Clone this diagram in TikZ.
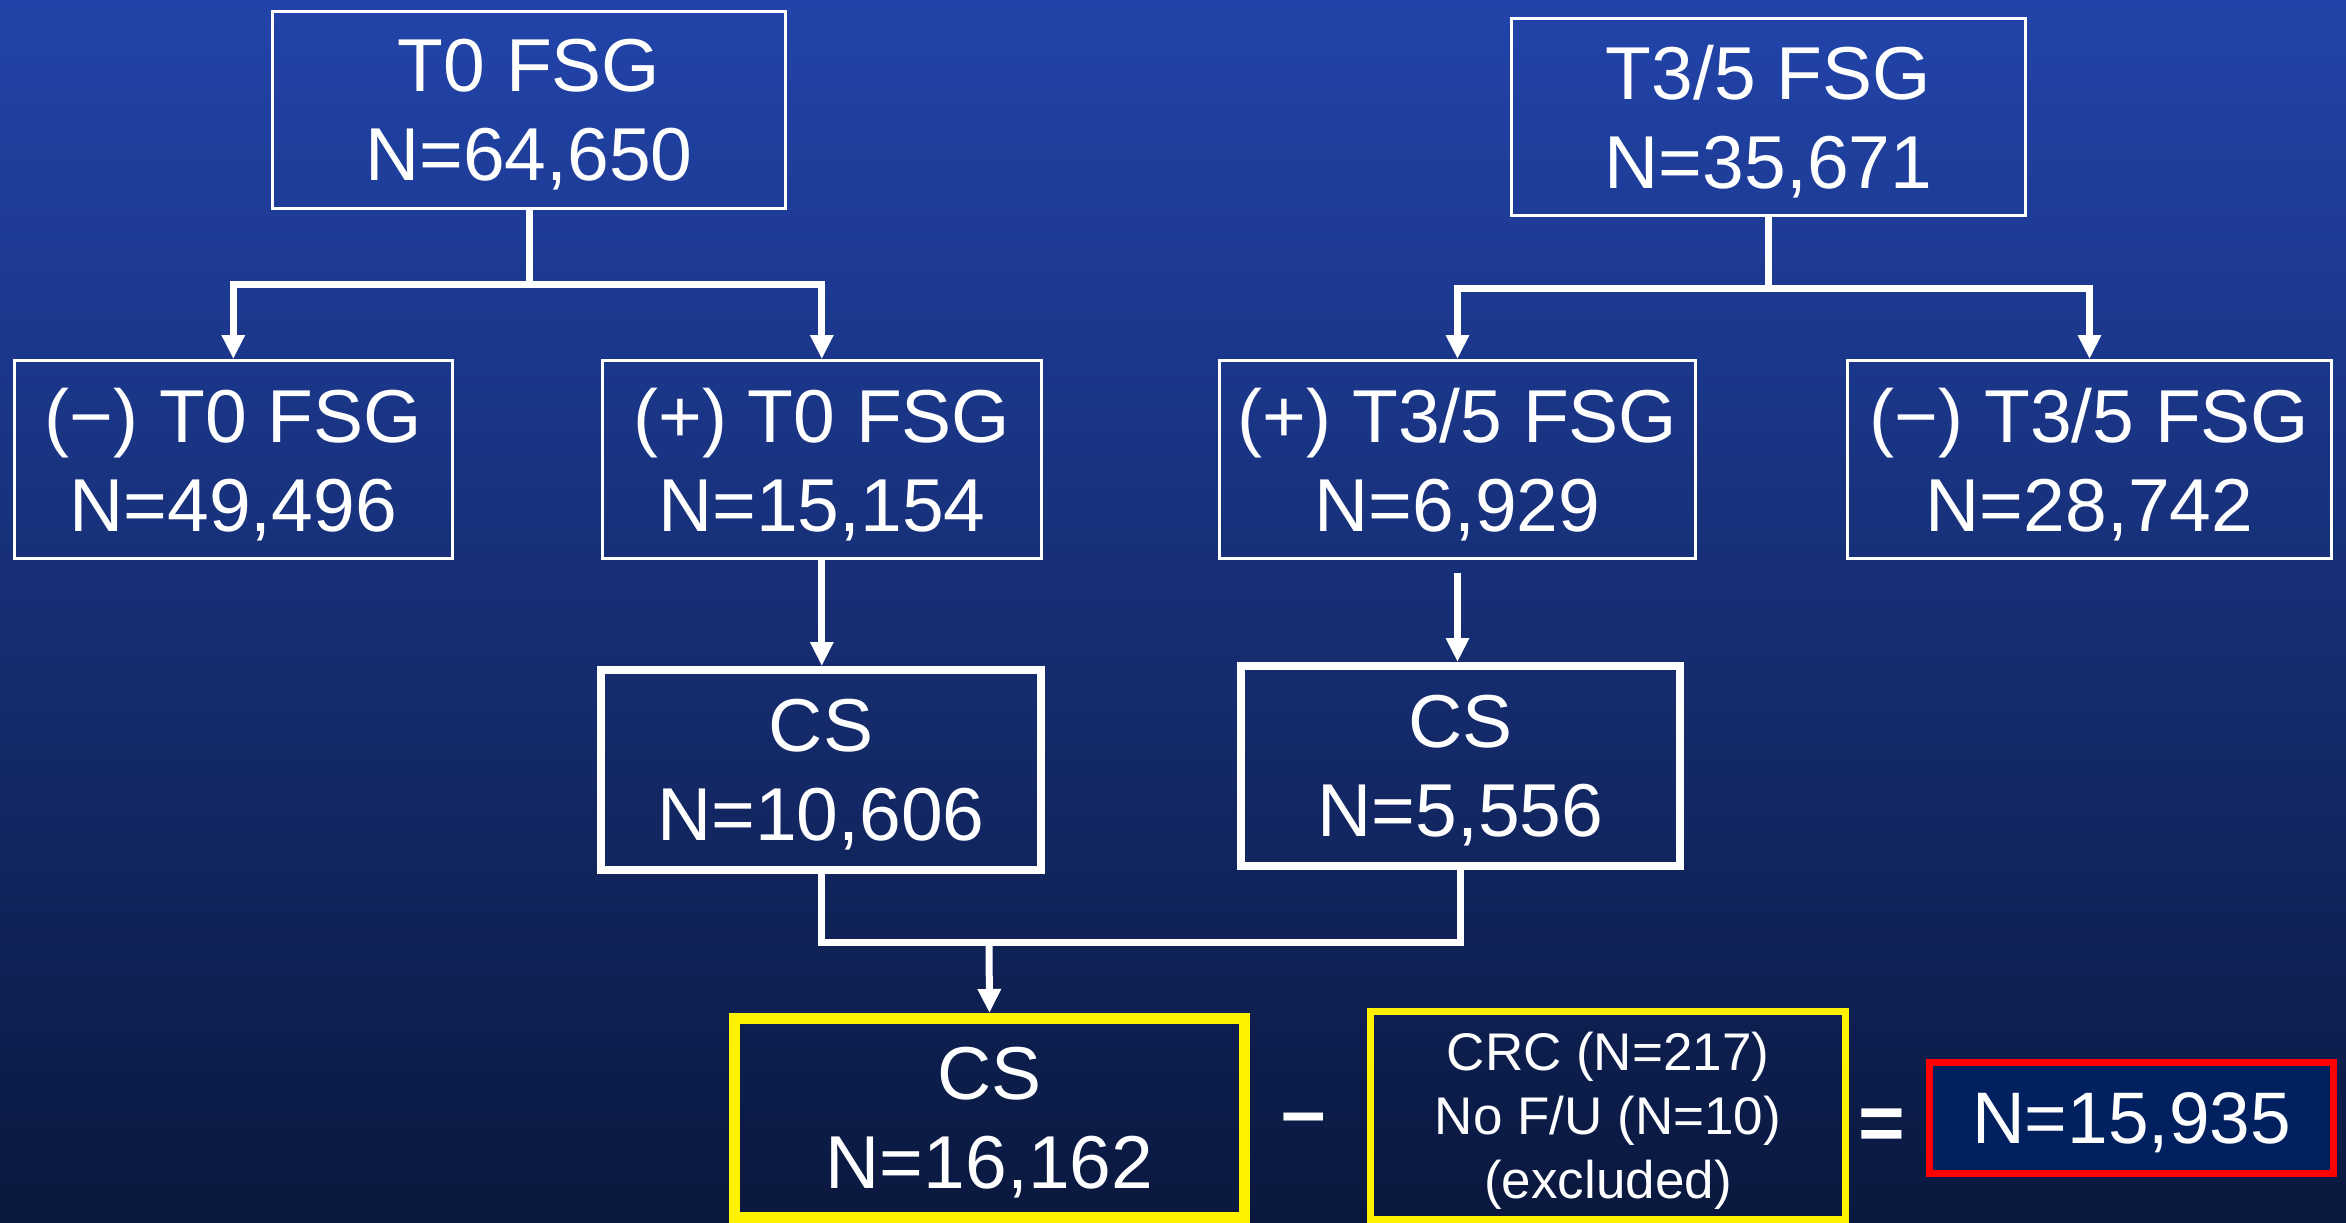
\documentclass[tikz,border=0pt]{standalone}
\usepackage{fontspec}
\setmainfont{Liberation Sans}
\usetikzlibrary{arrows.meta}
\definecolor{bgtop}{RGB}{34,68,170}
\definecolor{bgbot}{RGB}{10,24,62}
\definecolor{finfill}{RGB}{0,32,96}
\tikzset{
  box/.style={draw=white, inner sep=0pt, align=center, text=white, text depth=0pt,
    font=\fontsize{75}{89}\selectfont},
  thinbox/.style={box, line width=3pt},
  thickbox/.style={box, line width=8pt},
  conn/.style={draw=white, line width=7pt, line join=miter},
  arr/.style={conn, -{Triangle[length=24pt,width=22pt]}},
  sign/.style={text=white, inner sep=0pt, font=\bfseries\fontsize{80}{80}\selectfont}
}
\begin{document}
\begin{tikzpicture}[x=1pt,y=-1pt]
\shade[top color=bgtop, bottom color=bgbot] (0,0) rectangle (2346,1223);
\useasboundingbox (0,0) rectangle (2346,1223);

\node[thinbox, minimum width=513pt, minimum height=197pt] (t0) at (529,110) {T0 FSG\\N=64,650};
\node[thinbox, minimum width=514pt, minimum height=197pt] (t35) at (1768.5,117) {T3/5 FSG\\N=35,671};

\node[thinbox, minimum width=438pt, minimum height=198pt] (nt0) at (233.3,459.5) {(−) T0 FSG\\N=49,496};
\node[thinbox, minimum width=439pt, minimum height=198pt] (pt0) at (821.8,459.5) {(+) T0 FSG\\N=15,154};
\node[thinbox, minimum width=476pt, minimum height=198pt] (pt35) at (1457.5,459.5) {(+) T3/5 FSG\\N=6,929};
\node[thinbox, minimum width=484pt, minimum height=198pt] (nt35) at (2089.5,459.5) {(−) T3/5 FSG\\N=28,742};

\node[thickbox, minimum width=440pt, minimum height=200pt] (cs1) at (821,770) {CS\\N=10,606};
\node[thickbox, minimum width=439pt, minimum height=200pt] (cs2) at (1460.5,766) {CS\\N=5,556};

\node[box, draw=yellow, line width=11pt, minimum width=510pt, minimum height=199pt] (cs) at (989.5,1118) {CS\\N=16,162};
\node[box, draw=yellow, line width=7pt, minimum width=475pt, minimum height=208pt,
      font=\fontsize{53}{64}\selectfont] (crc) at (1608,1115.5) {CRC (N=217)\\No F/U (N=10)\\(excluded)};
\node[box, draw=red, fill=finfill, line width=7pt, minimum width=404pt, minimum height=111pt,
      font=\fontsize{73}{73}\selectfont] (fin) at (2131.5,1118) {N=15,935};

\node[sign, anchor=base] (minus) at (1304,1138) {–};
\node[sign, anchor=base] (eq) at (1882,1150) {=};

\coordinate (j1) at (529,284.5);
\coordinate (j3) at (1768.5,288.5);
\coordinate (j2) at (989,942);

\draw[conn, line cap=rect] (t0.south) -- (j1);
\draw[arr] (j1) -| (nt0.north);
\draw[arr] (j1) -| (pt0.north);

\draw[conn, line cap=rect] (t35.south) -- (j3);
\draw[arr] (j3) -| (pt35.north);
\draw[arr] (j3) -| (nt35.north);

\draw[arr] (pt0.south) -- (pt0.south |- cs1.north);
\draw[arr] ([yshift=-13pt]pt35.south) -- (pt35.south |- cs2.north);

\draw[conn] (cs1.south) -- (cs1.south |- j2) -- (cs2.south |- j2) -- (cs2.south);
\draw[arr] (j2) -- (cs.north);
\end{tikzpicture}
\end{document}
